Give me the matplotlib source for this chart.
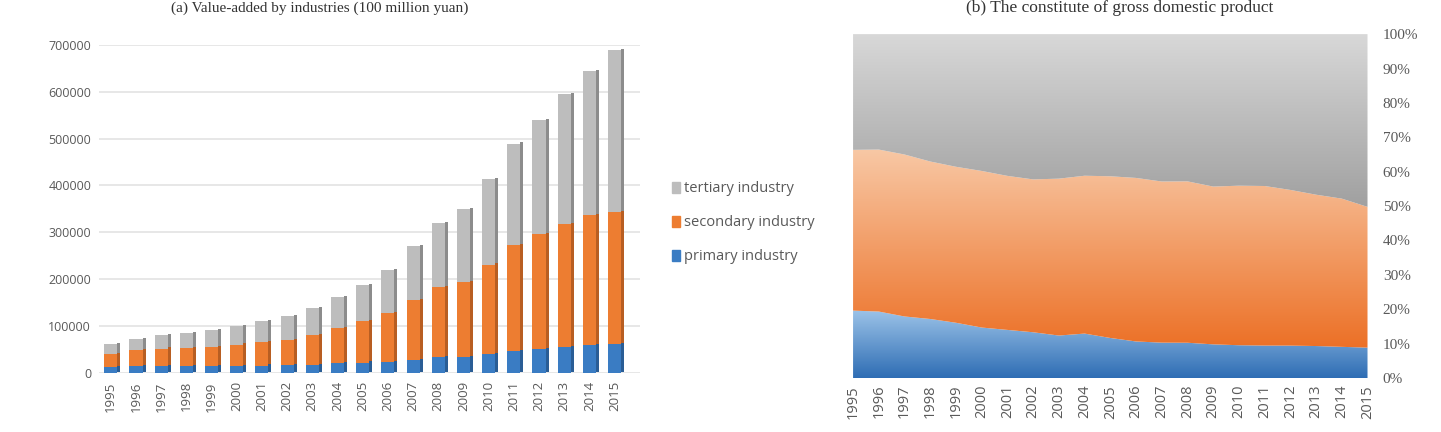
import matplotlib
matplotlib.use("Agg")
import matplotlib.pyplot as plt
import numpy as np
from matplotlib.patches import Patch
from matplotlib.colors import LinearSegmentedColormap

years = [str(y) for y in range(1995, 2016)]

# value-added, 100 million yuan
primary = [12020, 13878, 14265, 14619, 14549, 14717, 15503, 16190, 16970, 20904, 21807,
           23317, 27788, 32753, 34162, 39363, 46163, 50902, 55329, 58344, 60862]
secondary = [28678, 33828, 37546, 39019, 41081, 45665, 49661, 54106, 62697, 74287, 88084,
             104362, 126634, 149957, 160172, 191630, 227039, 244643, 261956, 277572, 282040]
tertiary = [20642, 24107, 27904, 31558, 34935, 39898, 45700, 51422, 57754, 66649, 77428,
            91760, 115811, 136806, 154748, 182038, 216099, 244822, 277959, 308059, 346150]

series_names = ["primary industry", "secondary industry", "tertiary industry"]
bar_colors = ["#3a7cc3", "#ed7d31", "#bdbdbd"]
side_colors = ["#2a5d95", "#b85e22", "#8c8c8c"]

left_yticks = list(range(0, 700001, 100000))
right_yticks = list(range(0, 101, 10))

SANS = ["Open Sans", "DejaVu Sans"]
SERIF = ["Liberation Serif", "DejaVu Serif"]
TICK_GRAY = "#595959"

fig = plt.figure(figsize=(14.41, 4.32), dpi=100)

# ---------------- (a) stacked bars ----------------
ax1 = fig.add_axes([0.069, 0.137, 0.375, 0.759])
x = np.arange(len(years))
data = [np.array(primary), np.array(secondary), np.array(tertiary)]
bottom = np.zeros(len(years))
w = 0.52
for vals, c, sc in zip(data, bar_colors, side_colors):
    # narrow darker strip on the right gives the bars a bit of depth
    ax1.bar(x + w / 2 + 0.06, vals, width=0.12, bottom=bottom + 2500, color=sc, zorder=2)
    ax1.bar(x, vals, width=w, bottom=bottom, color=c, zorder=3)
    bottom = bottom + vals

ax1.set_ylim(0, 700000)
ax1.set_xlim(-0.45, 21.0)
ax1.set_yticks(left_yticks)
ax1.set_yticklabels([str(v) for v in left_yticks], family=SANS, fontsize=9, color=TICK_GRAY)
ax1.set_xticks(x)
ax1.set_xticklabels(years, rotation=90, family=SANS, fontsize=9.5, color=TICK_GRAY)
ax1.tick_params(length=0, pad=6)
ax1.grid(axis="y", color="#e3e3e3", linewidth=1.2, zorder=0)
ax1.set_axisbelow(True)
for s in ax1.spines.values():
    s.set_visible(False)

fig.text(0.222, 0.981, "(a) Value-added by industries (100 million yuan)",
         family=SERIF, fontsize=11, color="#333333", ha="center", va="center")

handles = [Patch(color=bar_colors[i]) for i in (2, 1, 0)]
labels = [series_names[i] for i in (2, 1, 0)]
fig.legend(handles, labels, loc="center left", bbox_to_anchor=(0.457, 0.484),
           frameon=False, handlelength=0.6, handleheight=0.75, handletextpad=0.25,
           labelspacing=1.3, prop={"family": SANS, "size": 10.5}, labelcolor=TICK_GRAY)

# ---------------- (b) 100% stacked area ----------------
ax2 = fig.add_axes([0.592, 0.125, 0.357, 0.796])
total = data[0] + data[1] + data[2]
p1 = data[0] / total * 100
p2 = (data[0] + data[1]) / total * 100
xs = np.arange(len(years))

layers = [
    (np.zeros(len(years)), p1, ["#2e6db4", "#9cc3e8"]),
    (p1, p2, ["#ec7026", "#f8c8a5"]),
    (p2, np.full(len(years), 100.0), ["#a0a0a0", "#d8d8d8"]),
]
for lo, hi, cols in layers:
    poly = ax2.fill_between(xs, lo, hi, color="none", linewidth=0)
    cmap = LinearSegmentedColormap.from_list("g", cols)
    grad = np.linspace(0, 1, 256).reshape(-1, 1)
    im = ax2.imshow(grad, cmap=cmap, aspect="auto", origin="lower",
                    extent=[xs[0], xs[-1], lo.min(), hi.max()], zorder=1)
    im.set_clip_path(poly.get_paths()[0], transform=ax2.transData)

ax2.set_xlim(xs[0], xs[-1])
ax2.set_ylim(0, 100)
ax2.yaxis.tick_right()
ax2.set_yticks(right_yticks)
ax2.set_yticklabels([f"{v}%" for v in right_yticks], family=SERIF, fontsize=11, color=TICK_GRAY)
ax2.set_xticks(xs)
ax2.set_xticklabels(years, rotation=90, family=SANS, fontsize=10.5, color=TICK_GRAY)
ax2.tick_params(length=0)
ax2.tick_params(axis="y", pad=11)
ax2.tick_params(axis="x", pad=5)
for s in ax2.spines.values():
    s.set_visible(False)

fig.text(0.777, 0.982, "(b) The constitute of gross domestic product",
         family=SERIF, fontsize=12.5, color="#333333", ha="center", va="center")

fig.savefig("out.png", dpi=100)
